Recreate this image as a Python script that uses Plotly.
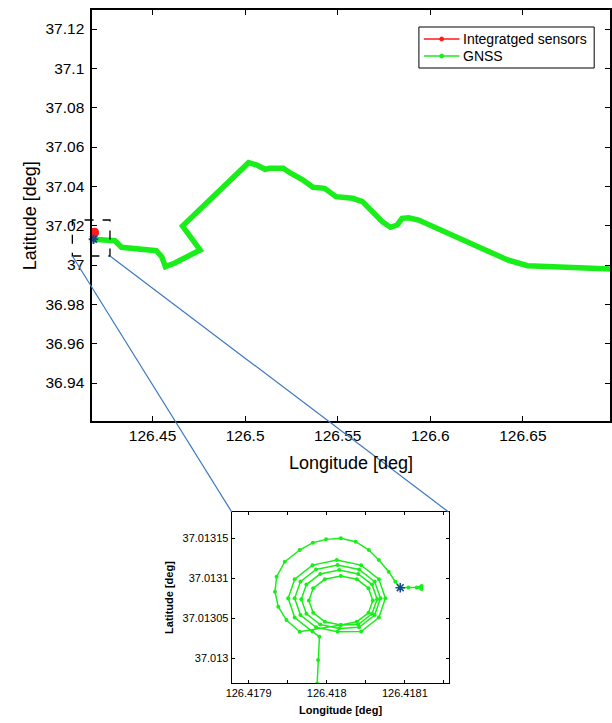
import plotly.graph_objects as go

# ---------------- data ----------------
# Main view: GNSS trajectory (deg)
gnss_lon = [126.41809, 126.42968, 126.43326, 126.44037, 126.45198, 126.45497, 126.45695,
            126.46177, 126.47567, 126.46620, 126.47513, 126.50187, 126.50631, 126.51080,
            126.51348, 126.52059, 126.52417, 126.53128, 126.53663, 126.54289, 126.54909,
            126.55802, 126.56337, 126.56872, 126.57406, 126.57850, 126.58209, 126.58476,
            126.58834, 126.59369, 126.60615, 126.62396, 126.64182, 126.65251, 126.66856,
            126.69706, 126.70240]
gnss_lat = [37.01309, 37.01236, 37.00900, 37.00814, 37.00727, 37.00422, 36.99914,
            37.00086, 37.00763, 37.01983, 37.02797, 37.05202, 37.05085, 37.04866,
            37.04917, 37.04917, 37.04693, 37.04322, 37.03951, 37.03900, 37.03473,
            37.03392, 37.03219, 37.02710, 37.02202, 37.01917, 37.02034, 37.02375,
            37.02405, 37.02288, 37.01744, 37.01017, 37.00254, 36.99964, 36.99883,
            36.99797, 36.99780]

# Integrated sensors (tiny cluster at the start at this scale)
ins_lon = [126.41840, 126.41860, 126.41890, 126.41870, 126.41850]
ins_lat = [37.01680, 37.01610, 37.01640, 37.01690, 37.01650]

# Start marker (star)
star_lon = [126.4180941]
star_lat = [37.0130879]

# Zoomed view: GNSS spiral (deg)
zoom_lon = [126.4179878, 126.4179890, 126.4179907,
            126.4179818, 126.4179590, 126.4179507, 126.4179590, 126.4179818, 126.4180129,
            126.4180440, 126.4180668, 126.4180751, 126.4180668, 126.4180440,
            126.4180139, 126.4179864, 126.4179664, 126.4179590, 126.4179664, 126.4179864,
            126.4180139, 126.4180414, 126.4180614, 126.4180688, 126.4180614, 126.4180414,
            126.4180160, 126.4179917, 126.4179740, 126.4179675, 126.4179740, 126.4179917,
            126.4180160, 126.4180403, 126.4180580, 126.4180645, 126.4180580, 126.4180403,
            126.4180181, 126.4179976, 126.4179827, 126.4179772, 126.4179827, 126.4179976,
            126.4180181, 126.4180386, 126.4180535, 126.4180590, 126.4180535, 126.4180386,
            126.4180181,
            126.4179654, 126.4179485, 126.4179380, 126.4179338, 126.4179359, 126.4179464,
            126.4179654, 126.4179823, 126.4179992, 126.4180181, 126.4180371, 126.4180540,
            126.4180667, 126.4180793, 126.4180878, 126.4180941, 126.4181046, 126.4181152,
            126.4181215, 126.4181215, 126.4181190]
zoom_lat = [37.0129683, 37.0129975, 37.0130267,
            37.0130331, 37.0130506, 37.0130746, 37.0130986, 37.0131161, 37.0131225,
            37.0131161, 37.0130986, 37.0130746, 37.0130506, 37.0130331,
            37.0130329, 37.0130385, 37.0130537, 37.0130746, 37.0130955, 37.0131107,
            37.0131163, 37.0131107, 37.0130955, 37.0130746, 37.0130537, 37.0130385,
            37.0130370, 37.0130419, 37.0130552, 37.0130735, 37.0130918, 37.0131051,
            37.0131100, 37.0131051, 37.0130918, 37.0130735, 37.0130552, 37.0130419,
            37.0130413, 37.0130454, 37.0130566, 37.0130719, 37.0130872, 37.0130984,
            37.0131025, 37.0130984, 37.0130872, 37.0130719, 37.0130566, 37.0130454,
            37.0130413,
            37.0130329, 37.0130475, 37.0130642, 37.0130829, 37.0131017, 37.0131204,
            37.0131350, 37.0131442, 37.0131483, 37.0131496, 37.0131454, 37.0131350,
            37.0131225, 37.0131079, 37.0130954, 37.0130879, 37.0130883, 37.0130883,
            37.0130900, 37.0130862, 37.0130880]

legend_names = ["Integratged sensors", "GNSS"]

main_xticks = [126.45, 126.5, 126.55, 126.6, 126.65]
main_xtext = ["126.45", "126.5", "126.55", "126.6", "126.65"]
main_yticks = [36.94, 36.96, 36.98, 37.0, 37.02, 37.04, 37.06, 37.08, 37.1, 37.12]
main_ytext = ["36.94", "36.96", "36.98", "37", "37.02", "37.04", "37.06", "37.08", "37.1", "37.12"]
zoom_xticks = [126.4179, 126.41795, 126.418, 126.41805, 126.4181, 126.41815]
zoom_xtext = ["126.4179", "", "126.418", "", "126.4181", ""]
zoom_yticks = [37.013, 37.01305, 37.0131, 37.01315]
zoom_ytext = ["37.013", "37.01305", "37.0131", "37.01315"]

main_xrange = [126.41738, 126.69706]
main_yrange = [36.92068, 37.12966]
zoom_xrange = [126.4178785, 126.4181560]
zoom_yrange = [37.0129688, 37.0131825]

# zoom box drawn on the main view (deg)
box_lon = [126.40669, 126.42701]
box_lat = [37.00458, 37.02288]

# ---------------- layout geometry ----------------
W, H = 612, 723
main_xdom = [87 / W, 610 / W]
main_ydom = [1 - 421 / H, 1 - 10 / H]
zoom_xdom = [228 / W, 447 / W]
zoom_ydom = [1 - 683 / H, 1 - 512 / H]

GREEN = "#1aee1a"
RED = "#ff1a1a"
STAR = "#17468f"
FONT = "Liberation Sans, Arial, sans-serif"


def to_paper_x(v):
    return main_xdom[0] + (v - main_xrange[0]) / (main_xrange[1] - main_xrange[0]) * (main_xdom[1] - main_xdom[0])


def to_paper_y(v):
    return main_ydom[0] + (v - main_yrange[0]) / (main_yrange[1] - main_yrange[0]) * (main_ydom[1] - main_ydom[0])


fig = go.Figure()

# main traces
fig.add_trace(go.Scatter(x=gnss_lon, y=gnss_lat, mode="lines", line=dict(color=GREEN, width=5.5),
                         showlegend=False, xaxis="x", yaxis="y"))
fig.add_trace(go.Scatter(x=ins_lon, y=ins_lat, mode="lines+markers",
                         line=dict(color=RED, width=3), marker=dict(color=RED, size=8),
                         showlegend=False, cliponaxis=False, xaxis="x", yaxis="y"))
fig.add_trace(go.Scatter(x=star_lon, y=star_lat, mode="markers",
                         marker=dict(symbol="asterisk-open", size=8, color=STAR,
                                     line=dict(color=STAR, width=2)),
                         showlegend=False, cliponaxis=False, xaxis="x", yaxis="y"))

# zoom traces
fig.add_trace(go.Scatter(x=zoom_lon, y=zoom_lat, mode="lines+markers",
                         line=dict(color=GREEN, width=1.5), marker=dict(color=GREEN, size=4),
                         showlegend=False, xaxis="x2", yaxis="y2"))
fig.add_trace(go.Scatter(x=star_lon, y=star_lat, mode="markers",
                         marker=dict(symbol="asterisk-open", size=8, color=STAR,
                                     line=dict(color=STAR, width=1.5)),
                         showlegend=False, xaxis="x2", yaxis="y2"))

axis_common = dict(showgrid=False, zeroline=False, showline=True, linecolor="black",
                   ticks="inside", tickcolor="black", mirror="ticks")

fig.update_layout(
    width=W, height=H,
    margin=dict(l=0, r=0, t=0, b=0),
    paper_bgcolor="white", plot_bgcolor="white",
    font=dict(family=FONT, color="black"),
    showlegend=False,
    xaxis=dict(domain=main_xdom, range=main_xrange, tickvals=main_xticks, ticktext=main_xtext,
               anchor="y", ticklen=5, linewidth=1.5, tickwidth=1.2,
               tickfont=dict(size=15.5), **axis_common),
    yaxis=dict(domain=main_ydom, range=main_yrange, tickvals=main_yticks, ticktext=main_ytext,
               anchor="x", ticklen=5, linewidth=1.5, tickwidth=1.2, ticklabelstandoff=3,
               tickfont=dict(size=15.5), **axis_common),
    xaxis2=dict(domain=zoom_xdom, range=zoom_xrange, tickvals=zoom_xticks, ticktext=zoom_xtext,
                anchor="y2", ticklen=3, linewidth=1.2, tickwidth=1,
                tickfont=dict(size=11), **axis_common),
    yaxis2=dict(domain=zoom_ydom, range=zoom_yrange, tickvals=zoom_yticks, ticktext=zoom_ytext,
                anchor="x2", ticklen=3, linewidth=1.2, tickwidth=1,
                tickfont=dict(size=11), **axis_common),
)

# axis titles
fig.add_annotation(text="Longitude [deg]", xref="paper", yref="paper",
                   x=(main_xdom[0] + main_xdom[1]) / 2, y=1 - 463 / H,
                   showarrow=False, font=dict(size=18), xanchor="center", yanchor="middle")
fig.add_annotation(text="Latitude [deg]", xref="paper", yref="paper",
                   x=24 / W, y=(main_ydom[0] + main_ydom[1]) / 2, textangle=-90,
                   showarrow=False, font=dict(size=18), xanchor="center", yanchor="middle")
fig.add_annotation(text="<b>Longitude [deg]</b>", xref="paper", yref="paper",
                   x=(zoom_xdom[0] + zoom_xdom[1]) / 2, y=1 - 710 / H,
                   showarrow=False, font=dict(size=11), xanchor="center", yanchor="middle")
fig.add_annotation(text="<b>Latitude [deg]</b>", xref="paper", yref="paper",
                   x=164 / W, y=(zoom_ydom[0] + zoom_ydom[1]) / 2, textangle=-90,
                   showarrow=False, font=dict(size=11), xanchor="center", yanchor="middle")

# legend (drawn as a framed box with line samples)
lg_x0, lg_x1, lg_y0, lg_y1 = 417 / W, 594 / W, 1 - 68 / H, 1 - 27 / H
fig.add_shape(type="rect", xref="paper", yref="paper", x0=lg_x0, x1=lg_x1, y0=lg_y0, y1=lg_y1,
              line=dict(color="black", width=1), fillcolor="white", layer="above")
for i, (name, col) in enumerate(zip(legend_names, [RED, GREEN])):
    yy = 1 - (39 + 17 * i) / H
    fig.add_shape(type="line", xref="paper", yref="paper", x0=422 / W, x1=458 / W, y0=yy, y1=yy,
                  line=dict(color=col, width=1.5), layer="above")
    fig.add_shape(type="circle", xref="paper", yref="paper",
                  x0=438 / W, x1=442 / W, y0=yy - 2 / H, y1=yy + 2 / H,
                  line=dict(color=col, width=1), fillcolor=col, layer="above")
    fig.add_annotation(text=name, xref="paper", yref="paper", x=460 / W, y=yy,
                       showarrow=False, font=dict(size=14), xanchor="left", yanchor="middle")

# zoom box and connectors
bx0, bx1 = to_paper_x(box_lon[0]), to_paper_x(box_lon[1])
by0, by1 = to_paper_y(box_lat[0]), to_paper_y(box_lat[1])
fig.add_shape(type="rect", xref="paper", yref="paper", x0=bx0, x1=bx1, y0=by0, y1=by1,
              line=dict(color="black", width=1.3, dash="dash"), layer="above")
fig.add_shape(type="line", xref="paper", yref="paper", x0=bx0, y0=by0,
              x1=zoom_xdom[0], y1=zoom_ydom[1], line=dict(color="#3c78c0", width=1.2))
fig.add_shape(type="line", xref="paper", yref="paper", x0=bx1, y0=by0,
              x1=zoom_xdom[1], y1=zoom_ydom[1], line=dict(color="#3c78c0", width=1.2))

fig.write_html("out.html")
